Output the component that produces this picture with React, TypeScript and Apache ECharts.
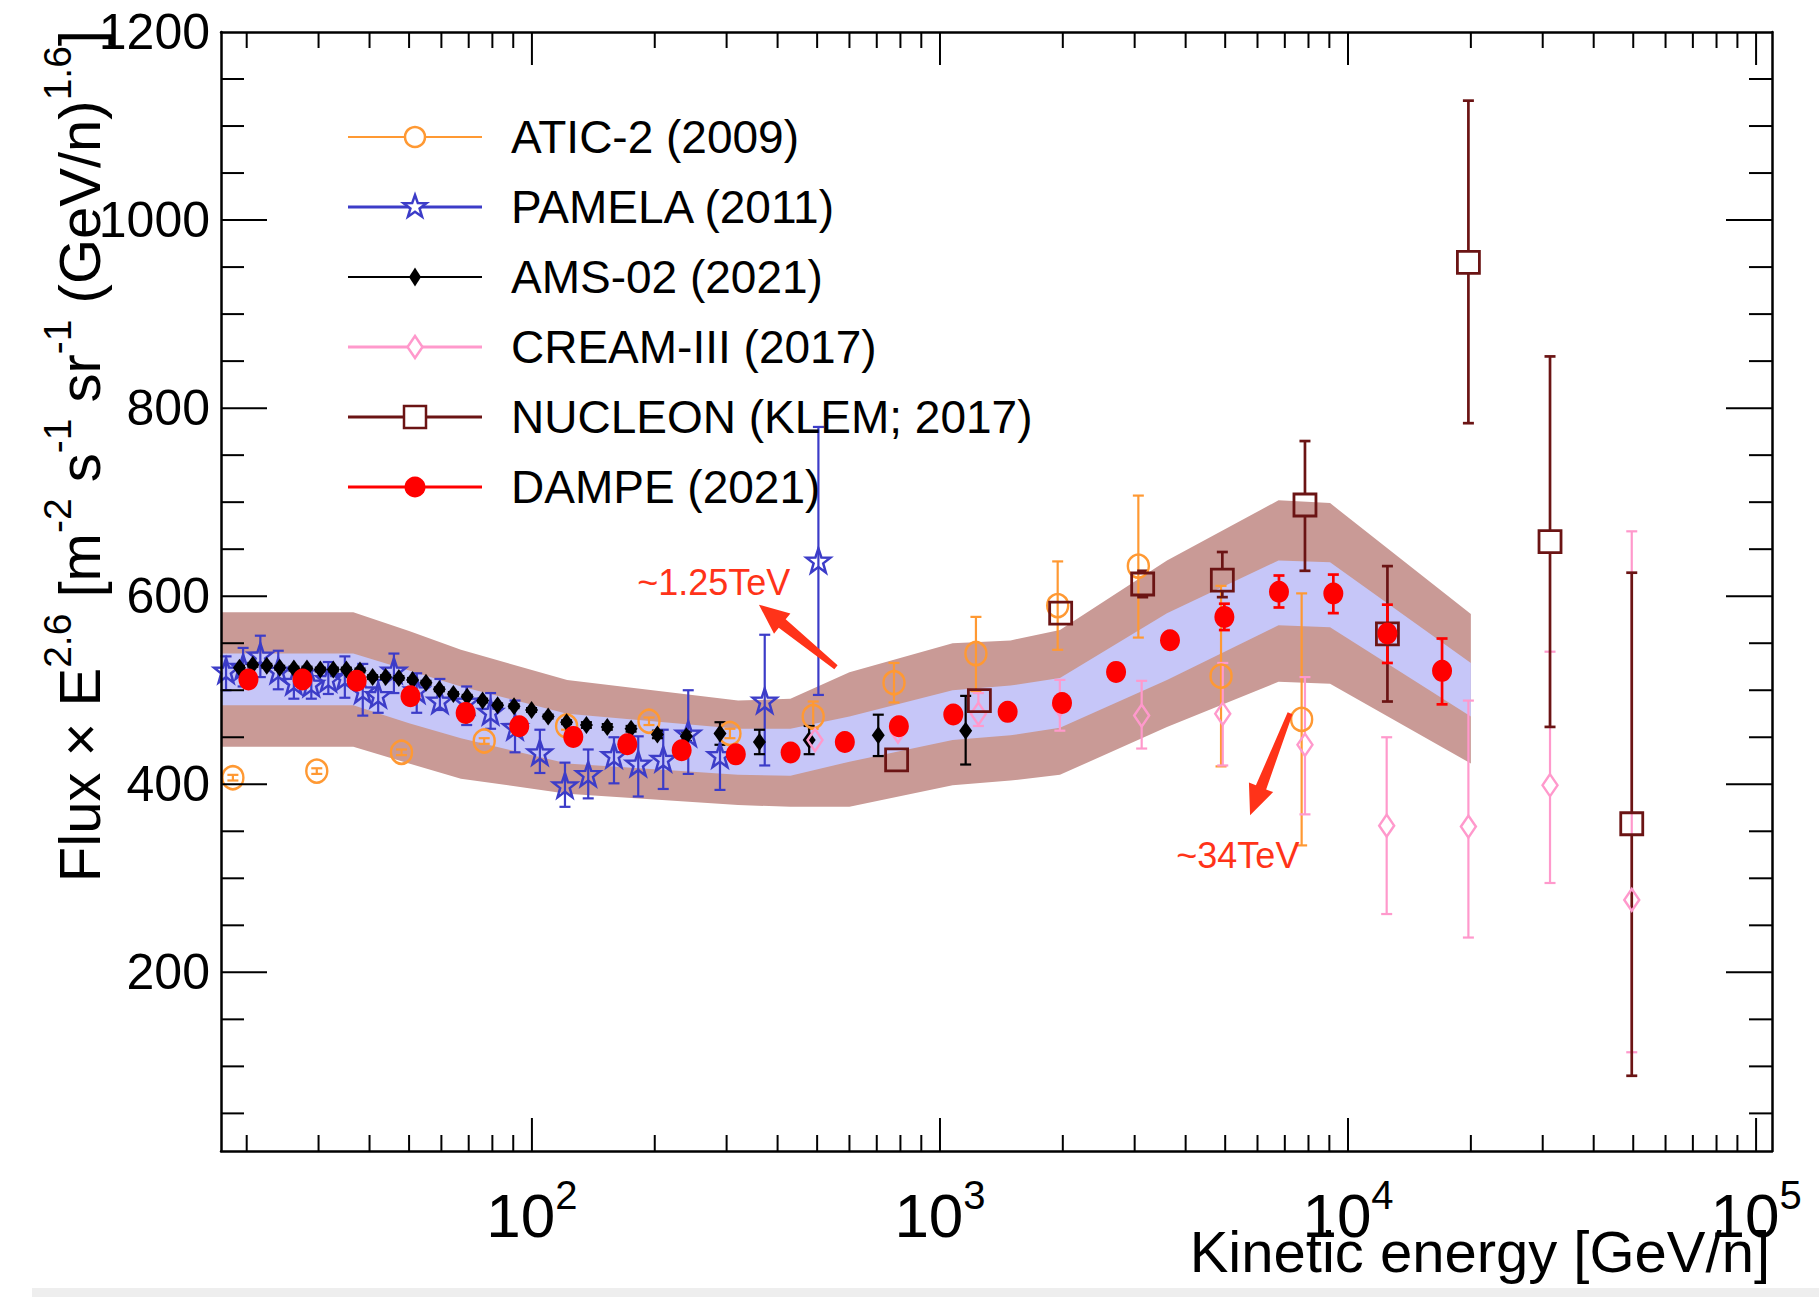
import React, { useEffect, useRef } from 'react';
import * as echarts from 'echarts';

// ---------------- axis ranges ----------------
const X_MIN = 17.3;
const X_MAX = 109400;
const Y_MIN = 10;
const Y_MAX = 1200;

// ---------------- DAMPE fit bands ----------------
const bandE = [17.3, 36.5, 50, 67, 122, 320, 430, 600, 1074, 1489, 1968, 3600, 6756, 9036, 20000];
const outerLo = [440, 440, 422, 406, 390, 378, 376, 376, 399, 404, 410, 461, 509, 507, 422];
const innerLo = [484, 484, 465, 449, 422, 410, 409, 424, 447, 452, 460, 511, 569, 567, 472];
const innerHi = [539, 539, 521, 504, 475, 459, 459, 472, 500, 505, 513, 582, 638, 636, 529];
const outerHi = [583, 583, 563, 543, 511, 489, 491, 519, 550, 553, 564, 638, 702, 699, 581];

// ---------------- ATIC-2 (2009) ----------------
const aticE = [18.5, 29.7, 47.9, 76.4, 121.6, 193.6, 305.7, 489, 771.5, 1225, 1943, 3063, 4884, 7697];
const aticF = [407, 414, 434, 446, 462, 467, 454, 472, 508, 539, 590, 632, 515, 469];
const aticLo = [404, 411, 431, 443, 458, 463, 449, 459, 487, 499, 543, 556, 419, 335];
const aticHi = [410, 417, 437, 449, 466, 471, 459, 488, 529, 578, 637, 707, 611, 603];

// ---------------- PAMELA (2011) ----------------
const pamE = [17.8, 19.6, 21.6, 23.9, 26.1, 28.8, 31.7, 34.8, 38.5, 42.0, 45.9, 52.2, 59.5, 69.2, 79.2, 90.9, 104.6, 120.5, 137.4, 158.9, 182.2, 209.8, 241.6, 289, 372, 503.6];
const pamF = [521, 525, 537, 521, 509, 507, 512, 514, 500, 495, 521, 500, 489, 488, 477, 461, 434, 399, 411, 431, 422, 427, 454, 431, 489, 638];
const pamLo = [500, 504, 514, 501, 491, 491, 496, 492, 473, 476, 497, 476, 479, 463, 459, 434, 412, 376, 385, 401, 387, 395, 411, 394, 420, 495];
const pamHi = [536, 545, 558, 542, 523, 521, 530, 536, 528, 511, 539, 518, 512, 504, 497, 489, 458, 423, 437, 450, 451, 458, 500, 454, 559, 780];

// ---------------- AMS-02 (2021) ----------------
const amsE = [19.2, 20.7, 22.4, 24.1, 26.1, 28.1, 30.3, 32.6, 35.1, 37.9, 40.7, 43.8, 47.2, 51.0, 55.0, 59.3, 64.2, 69.4, 75.7, 82.4, 90.4, 99.8, 109.6, 121.6, 136, 153, 175, 203, 239, 289, 361, 478, 706, 1156];
const amsF = [524, 527, 526, 524, 523, 523, 522, 522, 522, 521, 514, 514, 513, 511, 508, 501, 496, 493, 489, 484, 483, 479, 472, 466, 463, 461, 459, 453, 451, 454, 445, 447, 452, 457];
const amsLo = [522, 525, 524, 522, 521, 521, 520, 520, 520, 519, 512, 512, 511, 509, 506, 499, 494, 491, 487, 482, 481, 477, 470, 464, 460, 458, 456, 449, 446, 442, 432, 432, 430, 421];
const amsHi = [526, 529, 528, 526, 525, 525, 524, 524, 524, 523, 516, 516, 515, 513, 510, 503, 498, 495, 491, 486, 485, 481, 474, 468, 466, 464, 462, 457, 456, 466, 458, 462, 474, 494];

// ---------------- CREAM-III (2017) ----------------
const creamE = [494, 789, 1242, 1967, 3121, 4932, 7843, 12437, 19724, 31262, 49582];
const creamF = [447, 456, 475, 484, 473, 475, 442, 356, 355, 399, 277];
const creamLo = [437, 448, 462, 457, 438, 420, 368, 262, 237, 295, 115];
const creamHi = [458, 464, 497, 511, 510, 529, 514, 450, 489, 541, 669];

// ---------------- NUCLEON (KLEM; 2017) ----------------
const nucE = [783, 1249, 1976, 3139, 4920, 7843, 12490, 19724, 31262, 49582];
const nucF = [426, 489, 582, 613, 617, 697, 560, 955, 658, 358];
const nucLo = [421, 483, 575, 599, 599, 627, 488, 784, 461, 90];
const nucHi = [431, 495, 589, 627, 647, 765, 632, 1127, 855, 625];

// ---------------- DAMPE (2021) ----------------
const dampeE = [20.2, 27.4, 37.2, 50.4, 68.8, 93.1, 126.3, 171.3, 232.8, 316, 430.5, 584.6, 793, 1078, 1465, 1991, 2701, 3662, 4977, 6773, 9204, 12486, 16999];
const dampeF = [511.4, 511.4, 510, 493.6, 475.9, 461.7, 450.4, 442.6, 436.2, 431.8, 433.7, 445, 461.7, 474.1, 477, 486.5, 519.5, 553.2, 578, 604.7, 602.9, 560.3, 520.6];
const dampeLo = [508, 508, 507, 491, 473, 459, 448, 440, 434, 429, 431, 442, 458, 470, 473, 481, 514, 545, 564, 588, 582, 529, 485];
const dampeHi = [514, 514, 513, 496, 479, 464, 453, 445, 439, 434, 437, 448, 465, 478, 481, 492, 525, 561, 592, 622, 623, 591, 555];

// ---------------- annotations ----------------
const arrowTailE = [556, 7211];
const arrowTailF = [524.5, 475.5];
const arrowHeadE = [360, 5754];
const arrowHeadF = [591, 367];
const noteText = ['~1.25TeV', '~34TeV'];
const noteE = [279, 5370];
const noteF = [615, 324];

// ---------------- legend ----------------
const legendNames = ['ATIC-2 (2009)', 'PAMELA (2011)', 'AMS-02 (2021)', 'CREAM-III (2017)', 'NUCLEON (KLEM; 2017)', 'DAMPE (2021)'];

// ---------------- styles ----------------
const FONT = 'Liberation Sans, Arial, Helvetica, sans-serif';
const C_ATIC = '#ff9933';
const C_PAM = '#3c3cc8';
const C_AMS = '#000000';
const C_CREAM = '#ff99cc';
const C_NUC = '#6b1414';
const C_DAMPE = '#ff0000';
const C_OUTER = '#c99a96';
const C_INNER = '#c6c6f8';
const C_NOTE = '#ff3319';
const NONE = 'rgba(0,0,0,0)';
const STAR = 'path://M0,-1L0.235,-0.324L0.951,-0.309L0.38,0.124L0.588,0.809L0,0.4L-0.588,0.809L-0.38,0.124L-0.951,-0.309L-0.235,-0.324Z';

function bandSeries(lo: number[], hi: number[], color: string) {
  return {
    type: 'custom',
    silent: true,
    z: 1,
    data: bandE.map((e, i) => [e, lo[i], hi[i]]),
    encode: { x: 0, y: [1, 2] },
    renderItem: (params: any, api: any) => {
      if (params.dataIndex !== 0) return null;
      const top = bandE.map((e, i) => api.coord([e, hi[i]]));
      const bot = bandE.map((e, i) => api.coord([e, lo[i]])).reverse();
      return { type: 'polygon', shape: { points: top.concat(bot) }, style: { fill: color } };
    },
  };
}

function errorBars(E: number[], F: number[], lo: number[], hi: number[], color: string, lw: number, gap: number) {
  return {
    type: 'custom',
    silent: true,
    z: 2,
    data: E.map((e, i) => [e, F[i], lo[i], hi[i]]),
    encode: { x: 0, y: [1, 2, 3] },
    renderItem: (_p: any, api: any) => {
      const x = api.value(0);
      const c = api.coord([x, api.value(1)]);
      const pl = api.coord([x, api.value(2)]);
      const ph = api.coord([x, api.value(3)]);
      const st = { stroke: color, lineWidth: lw };
      const cap = 5.5;
      const ch: any[] = [];
      if (gap > 0) {
        if (ph[1] < c[1] - gap) {
          ch.push({ type: 'line', shape: { x1: c[0], y1: c[1] - gap, x2: c[0], y2: ph[1] }, style: st });
          ch.push({ type: 'line', shape: { x1: c[0] - cap, y1: ph[1], x2: c[0] + cap, y2: ph[1] }, style: st });
        }
        if (pl[1] > c[1] + gap) {
          ch.push({ type: 'line', shape: { x1: c[0], y1: c[1] + gap, x2: c[0], y2: pl[1] }, style: st });
          ch.push({ type: 'line', shape: { x1: c[0] - cap, y1: pl[1], x2: c[0] + cap, y2: pl[1] }, style: st });
        }
      } else {
        ch.push({ type: 'line', shape: { x1: c[0], y1: ph[1], x2: c[0], y2: pl[1] }, style: st });
        ch.push({ type: 'line', shape: { x1: c[0] - cap, y1: ph[1], x2: c[0] + cap, y2: ph[1] }, style: st });
        ch.push({ type: 'line', shape: { x1: c[0] - cap, y1: pl[1], x2: c[0] + cap, y2: pl[1] }, style: st });
      }
      return { type: 'group', children: ch };
    },
  };
}

function markers(name: string, E: number[], F: number[], symbol: string, size: any, fill: string, stroke: string, bw: number) {
  return {
    type: 'scatter',
    name,
    silent: true,
    z: 3,
    data: E.map((e, i) => [e, F[i]]),
    symbol,
    symbolSize: size,
    itemStyle: { color: fill, borderColor: stroke, borderWidth: bw, opacity: 1 },
  };
}

function xTickValues() {
  const out: number[] = [];
  for (let k = 1; k <= 5; k++) {
    for (let m = 1; m <= 9; m++) {
      const v = m * Math.pow(10, k);
      if (v > X_MIN && v < X_MAX) out.push(v);
    }
  }
  return out;
}
function yTickValues() {
  const out: number[] = [];
  for (let v = 50; v < Y_MAX; v += 50) out.push(v);
  return out;
}

function legendGraphics() {
  const els: any[] = [];
  const colors = [C_ATIC, C_PAM, C_AMS, C_CREAM, C_NUC, C_DAMPE];
  const widths = [2, 3, 2, 3, 3, 3];
  const x1 = 348, x2 = 482, mx = 415, tx = 511;
  legendNames.forEach((name, i) => {
    const y = 137 + i * 70;
    const col = colors[i];
    els.push({ type: 'line', shape: { x1, y1: y, x2, y2: y }, style: { stroke: col, lineWidth: widths[i] }, z: 20 });
    let m: any;
    if (i === 0) m = { type: 'circle', shape: { cx: mx, cy: y, r: 10 }, style: { fill: '#fff', stroke: col, lineWidth: 2.5 } };
    if (i === 1) {
      const pts = [[0, -1], [0.235, -0.324], [0.951, -0.309], [0.38, 0.124], [0.588, 0.809], [0, 0.4], [-0.588, 0.809], [-0.38, 0.124], [-0.951, -0.309], [-0.235, -0.324]]
        .map((p) => [mx + p[0] * 12, y + p[1] * 12]);
      m = { type: 'polygon', shape: { points: pts }, style: { fill: '#fff', stroke: col, lineWidth: 2.5 } };
    }
    if (i === 2) m = { type: 'polygon', shape: { points: [[mx, y - 9.5], [mx + 6, y], [mx, y + 9.5], [mx - 6, y]] }, style: { fill: col } };
    if (i === 3) m = { type: 'polygon', shape: { points: [[mx, y - 11], [mx + 7.5, y], [mx, y + 11], [mx - 7.5, y]] }, style: { fill: '#fff', stroke: col, lineWidth: 2.5 } };
    if (i === 4) m = { type: 'rect', shape: { x: mx - 11, y: y - 11, width: 22, height: 22 }, style: { fill: '#fff', stroke: col, lineWidth: 2.5 } };
    if (i === 5) m = { type: 'circle', shape: { cx: mx, cy: y, r: 10.5 }, style: { fill: col } };
    m.z = 21;
    els.push(m);
    els.push({
      type: 'text', x: tx, y, z: 21,
      style: { text: name, fontSize: 46, fontFamily: FONT, fill: '#000', align: 'left', verticalAlign: 'middle' },
    });
  });
  return els;
}

function buildOption(): any {
  const axisLine = { show: true, lineStyle: { color: '#000', width: 2.5 } };
  const xBase = {
    type: 'log', logBase: 10, min: X_MIN, max: X_MAX, z: 10,
    axisLine, axisTick: { show: false }, splitLine: { show: false }, minorTick: { show: false },
  };
  const yBase = {
    type: 'value', min: Y_MIN, max: Y_MAX, splitNumber: 6, z: 10,
    axisLine, axisTick: { show: false }, splitLine: { show: false },
  };
  return {
    animation: false,
    backgroundColor: '#ffffff',
    textStyle: { fontFamily: FONT },
    grid: { left: 221, right: 47, top: 32, bottom: 146, containLabel: false },
    xAxis: [
      {
        ...xBase,
        position: 'bottom',
        axisLabel: {
          show: true,
          margin: 24,
          formatter: (v: number) => {
            const l = Math.log10(v);
            const r = Math.round(l);
            return Math.abs(l - r) < 1e-6 ? `{b|10}{s|${r}}` : '';
          },
          rich: {
            b: { fontSize: 62, fontFamily: FONT, color: '#000' },
            s: { fontSize: 40, fontFamily: FONT, color: '#000', padding: [0, 0, 40, 0] },
          },
        },
      },
      { ...xBase, position: 'top', axisLabel: { show: false } },
    ],
    yAxis: [
      {
        ...yBase,
        position: 'left',
        axisLabel: {
          show: true, margin: 11, fontSize: 50, fontFamily: FONT, color: '#000',
          formatter: (v: number) => (v % 200 === 0 && v > 0 ? String(v) : ''),
        },
      },
      { ...yBase, position: 'right', axisLabel: { show: false } },
    ],
    graphic: [
      {
        type: 'text', x: 79, y: 30, rotation: Math.PI / 2, z: 5,
        style: {
          text: '{a|Flux × E}{s|2.6}{a| [m}{s|-2}{a| s}{s|-1}{a| sr}{s|-1}{a| (GeV/n)}{s|1.6}{a|]}',
          align: 'right', verticalAlign: 'middle',
          rich: {
            a: { fontSize: 58, fontFamily: FONT, fill: '#000' },
            s: { fontSize: 39, fontFamily: FONT, fill: '#000', padding: [0, 0, 44, 0] },
          },
        },
      },
      {
        type: 'text', x: 1770, y: 1251, z: 5,
        style: { text: 'Kinetic energy [GeV/n]', fontSize: 58, fontFamily: FONT, fill: '#000', align: 'right', verticalAlign: 'middle' },
      },
      { type: 'rect', shape: { x: 32, y: 1288, width: 1787, height: 9 }, style: { fill: '#eeeeee' }, z: 0 },
      ...legendGraphics(),
    ],
    series: [
      bandSeries(outerLo, outerHi, C_OUTER),
      bandSeries(innerLo, innerHi, C_INNER),
      errorBars(aticE, aticF, aticLo, aticHi, C_ATIC, 2.2, 0),
      markers('ATIC-2 (2009)', aticE, aticF, 'circle', [21, 23], NONE, C_ATIC, 2.5),
      errorBars(pamE, pamF, pamLo, pamHi, C_PAM, 2.2, 0),
      markers('PAMELA (2011)', pamE, pamF, STAR, 24, NONE, C_PAM, 2.5),
      errorBars(amsE, amsF, amsLo, amsHi, C_AMS, 2.2, 0),
      markers('AMS-02 (2021)', amsE, amsF, 'diamond', [13, 18], C_AMS, C_AMS, 0),
      errorBars(creamE, creamF, creamLo, creamHi, C_CREAM, 2.2, 11),
      markers('CREAM-III (2017)', creamE, creamF, 'diamond', [15, 22], NONE, C_CREAM, 2.5),
      errorBars(nucE, nucF, nucLo, nucHi, C_NUC, 2.7, 11),
      markers('NUCLEON (KLEM; 2017)', nucE, nucF, 'rect', 22, NONE, C_NUC, 2.8),
      errorBars(dampeE, dampeF, dampeLo, dampeHi, C_DAMPE, 2.7, 0),
      markers('DAMPE (2021)', dampeE, dampeF, 'circle', [20, 22], C_DAMPE, C_DAMPE, 0),
      {
        type: 'custom', silent: true, z: 6,
        data: arrowTailE.map((e, i) => [e, arrowTailF[i], arrowHeadE[i], arrowHeadF[i]]),
        encode: { x: [0, 2], y: [1, 3] },
        renderItem: (_p: any, api: any) => {
          const t = api.coord([api.value(0), api.value(1)]);
          const h = api.coord([api.value(2), api.value(3)]);
          const dx = h[0] - t[0], dy = h[1] - t[1];
          const L = Math.hypot(dx, dy);
          const ux = dx / L, uy = dy / L, nx = -uy, ny = ux;
          const headLen = 30, headHalf = 13, wt = 2.6, wh = 5.5;
          const bx = h[0] - ux * headLen, by = h[1] - uy * headLen;
          const pts = [
            [t[0] + nx * wt, t[1] + ny * wt],
            [bx + nx * wh, by + ny * wh],
            [bx + nx * headHalf, by + ny * headHalf],
            [h[0], h[1]],
            [bx - nx * headHalf, by - ny * headHalf],
            [bx - nx * wh, by - ny * wh],
            [t[0] - nx * wt, t[1] - ny * wt],
          ];
          return { type: 'polygon', shape: { points: pts }, style: { fill: C_NOTE } };
        },
      },
      {
        type: 'custom', silent: true, z: 6,
        data: noteE.map((e, i) => [e, noteF[i]]),
        encode: { x: 0, y: 1 },
        renderItem: (p: any, api: any) => {
          const c = api.coord([api.value(0), api.value(1)]);
          return {
            type: 'text', x: c[0], y: c[1],
            style: { text: noteText[p.dataIndex], fontSize: 36, fontFamily: FONT, fill: C_NOTE, align: 'center', verticalAlign: 'middle' },
          };
        },
      },
      {
        type: 'custom', silent: true, z: 10,
        data: xTickValues().map((v) => [v, Y_MIN]),
        encode: { x: 0, y: 1 },
        renderItem: (_p: any, api: any) => {
          const v = api.value(0);
          const lg = Math.log10(v);
          const len = Math.abs(lg - Math.round(lg)) < 1e-6 ? 33 : 16;
          const b = api.coord([v, Y_MIN]);
          const t = api.coord([v, Y_MAX]);
          const st = { stroke: '#000', lineWidth: 2 };
          return {
            type: 'group', children: [
              { type: 'line', shape: { x1: b[0], y1: b[1], x2: b[0], y2: b[1] - len }, style: st },
              { type: 'line', shape: { x1: t[0], y1: t[1], x2: t[0], y2: t[1] + len }, style: st },
            ],
          };
        },
      },
      {
        type: 'custom', silent: true, z: 10,
        data: yTickValues().map((v) => [X_MIN, v]),
        encode: { x: 0, y: 1 },
        renderItem: (_p: any, api: any) => {
          const v = api.value(1);
          const len = v % 200 === 0 ? 46 : 23;
          const l = api.coord([X_MIN, v]);
          const r = api.coord([X_MAX, v]);
          const st = { stroke: '#000', lineWidth: 2 };
          return {
            type: 'group', children: [
              { type: 'line', shape: { x1: l[0], y1: l[1], x2: l[0] + len, y2: l[1] }, style: st },
              { type: 'line', shape: { x1: r[0], y1: r[1], x2: r[0] - len, y2: r[1] }, style: st },
            ],
          };
        },
      },
    ],
  };
}

export default function App() {
  const ref = useRef<HTMLDivElement>(null);
  useEffect(() => {
    document.body.style.margin = '0';
    document.body.style.overflow = 'hidden';
    const chart = echarts.init(ref.current as HTMLDivElement, null, { renderer: 'svg' });
    chart.setOption(buildOption());
    return () => chart.dispose();
  }, []);
  return <div ref={ref} style={{ width: 1819, height: 1297, background: '#fff' }} />;
}
